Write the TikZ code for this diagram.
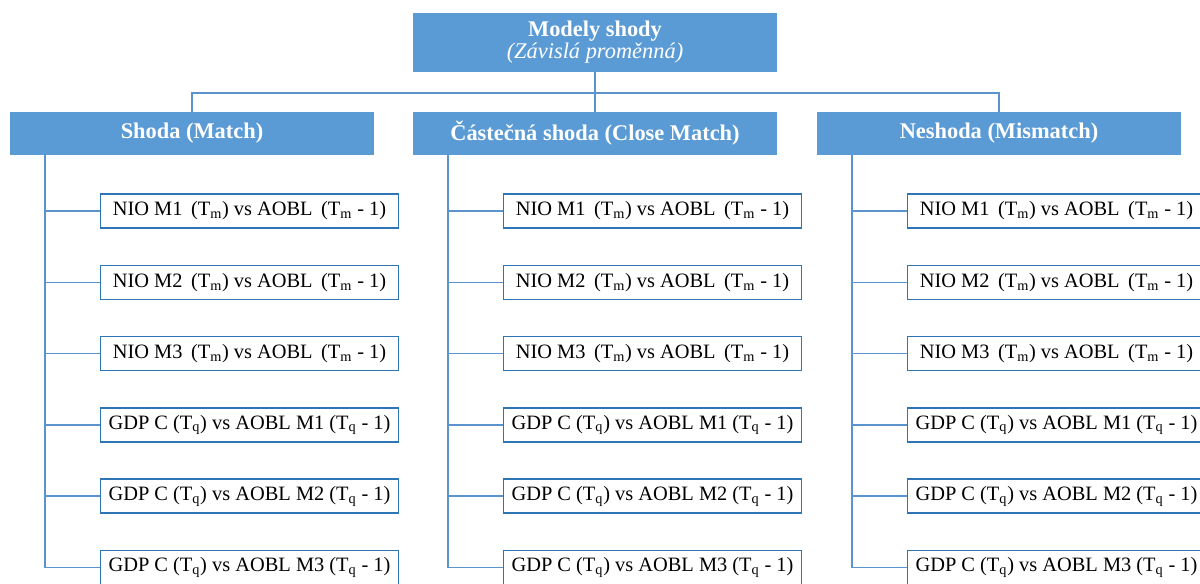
\documentclass[tikz,border=0pt]{standalone}
\usepackage{fontspec}
\setmainfont{Liberation Serif}
\usetikzlibrary{positioning,calc}
\definecolor{hdrblue}{HTML}{5B9BD5}
\definecolor{lineblue}{HTML}{5B93CF}
\definecolor{boxblue}{HTML}{2E75B6}
\newcommand{\Tm}{T\textsubscript{m}}
\newcommand{\Tq}{T\textsubscript{q}}

\begin{document}
\begin{tikzpicture}[x=0.75pt,y=-0.75pt,
    head/.style={fill=hdrblue,text=white,font=\fontsize{16.8}{18.5}\selectfont\bfseries,minimum width=273pt,minimum height=32pt,inner sep=0pt},
    item/.style={draw=boxblue,line width=1.2pt,fill=white,font=\fontsize{15.3}{17}\selectfont,minimum width=223.5pt,minimum height=25.5pt,inner sep=0pt,anchor=west},
    link/.style={draw=lineblue,line width=1.2pt}
]
\clip (0,0) rectangle (1200,583);
\fill[white] (0,0) rectangle (1200,583);

% top node
\node[head,minimum height=44pt,align=center] (top) at (595,42.5) {Modely shody\\[-2pt]{\mdseries\itshape (Závislá proměnná)}};
\coordinate (bus) at (595,93);

% group headers
\foreach \c/\x/\name in {1/192/Shoda (Match), 2/595/Částečná shoda (Close Match), 3/999/Neshoda (Mismatch)}{
  \node[head] (h\c) at (\x,133.5) {\name};
}

\draw[link] (top.south) -- (h2.north);
\draw[link] (h1.north) -- (h1.north |- bus) -- (h3.north |- bus) -- (h3.north);

% comparison boxes
\foreach \c in {1,2,3}{
  \foreach \r/\lbl in {1/{NIO M1\, (\Tm) vs AOBL\, (\Tm{} - 1)},
                       2/{NIO M2\, (\Tm) vs AOBL\, (\Tm{} - 1)},
                       3/{NIO M3\, (\Tm) vs AOBL\, (\Tm{} - 1)},
                       4/{GDP C (\Tq) vs AOBL M1 (\Tq{} - 1)},
                       5/{GDP C (\Tq) vs AOBL M2 (\Tq{} - 1)},
                       6/{GDP C (\Tq) vs AOBL M3 (\Tq{} - 1)}}{
    \node[item] (b\c-\r) at ($(h\c.west)+(90,{77.5+71.3*(\r-1)})$) {\lbl};
  }
  \coordinate (s\c) at ($(h\c.south west)+(35,0)$);
  \draw[link] (s\c) -- (s\c |- b\c-6.west) -- (b\c-6.west);
  \foreach \r in {1,...,5}{
    \draw[link] (s\c |- b\c-\r.west) -- (b\c-\r.west);
  }
}
\end{tikzpicture}
\end{document}
